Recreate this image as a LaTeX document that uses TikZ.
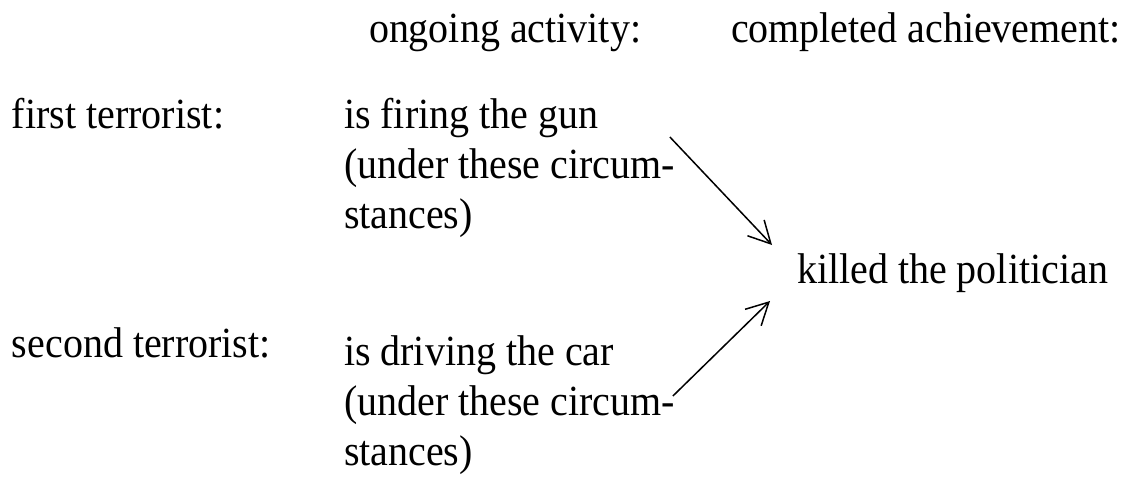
\documentclass[tikz,border=0pt]{standalone}
\usepackage{fontspec}
\setmainfont[FakeStretch=0.93]{Liberation Serif}
\usetikzlibrary{arrows.meta,calc}
\begin{document}
\begin{tikzpicture}[x=1pt,y=-1pt,
  lbl/.style={inner sep=0pt, outer sep=0pt, anchor=base west, font=\fontsize{43}{50}\selectfont},
  conn/.style={line width=1.5pt, -{Straight Barb[length=22pt,width=23pt]}}]
\useasboundingbox (0,0) rectangle (1123,480);
\node[lbl] (hact) at (369,42) {ongoing activity:};
\node[lbl] (hach) at (731,42) {completed achievement:};
\node[lbl] (t1) at (12,128) {first terrorist:};
\node[lbl] (fire) at (344,128) {\begin{tabular}[t]{@{}l@{}}is firing the gun\\(under these circum-\\stances)\end{tabular}};
\node[lbl] (t2) at (12,357) {second terrorist:};
\node[lbl] (drive) at (344,365) {\begin{tabular}[t]{@{}l@{}}is driving the car\\(under these circum-\\stances)\end{tabular}};
\node[lbl] (killed) at (797,283) {killed the politician};
\draw[conn] ($(fire.base east)+(-5,9)$) -- ($(killed.base west)+(-25,-38)$);
\draw[conn] ($(drive.base east)+(-2,31)$) -- ($(killed.base west)+(-27,18)$);
\end{tikzpicture}
\end{document}
